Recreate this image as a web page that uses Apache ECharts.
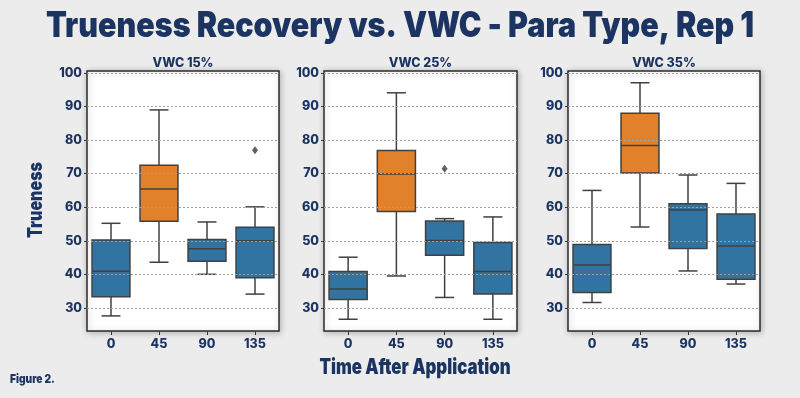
<!DOCTYPE html>
<html>
<head>
<meta charset="utf-8">
<script src="https://cdn.jsdelivr.net/npm/echarts@6/dist/echarts.min.js"></script>
<style>
  html, body { margin: 0; padding: 0; background: #ececec; }
  #chart { width: 800px; height: 398px; }
</style>
</head>
<body>
<div id="chart"></div>
<script>
// time after application
const categories = ['0', '45', '90', '135']
const panelTitles = ['VWC 15%', 'VWC 25%', 'VWC 35%']
const yTicks = [30, 40, 50, 60, 70, 80, 90, 100]

// [min, q1, median, q3, max] per category
const vwc15 = [
  [27.6, 33.3, 40.9, 50.2, 55.2],
  [43.6, 55.8, 65.4, 72.5, 89.0],
  [40.0, 43.9, 47.6, 50.4, 55.6],
  [34.1, 39.0, 50.0, 54.0, 60.1],
]
const vwc25 = [
  [26.6, 32.5, 35.6, 40.8, 45.1],
  [39.5, 58.7, 69.9, 76.9, 94.1],
  [33.1, 45.7, 50.1, 55.9, 56.6],
  [26.6, 34.1, 40.8, 49.5, 57.1],
]
const vwc35 = [
  [31.6, 34.6, 42.8, 48.9, 65.0],
  [54.1, 70.2, 78.4, 88.0, 97.1],
  [41.0, 47.7, 59.2, 61.0, 69.6],
  [37.1, 38.5, 48.4, 58.0, 67.1],
]
// [category index, value]
const outliers15 = [[3, 77.0]]
const outliers25 = [[2, 71.5]]
const outliers35 = []

const panels = [vwc15, vwc25, vwc35]
const panelOutliers = [outliers15, outliers25, outliers35]
const boxColors = ['#3274a1', '#e1812c', '#3274a1', '#3274a1']
const edge = '#404040'
const navy = '#1c3461'

const gridPos = [
  { left: 87, width: 192 },
  { left: 324, width: 193 },
  { left: 568, width: 192 },
]

function renderBox(params, api) {
  const x = api.value(0)
  const lo = api.coord([x, api.value(1)])
  const q1 = api.coord([x, api.value(2)])
  const med = api.coord([x, api.value(3)])
  const q3 = api.coord([x, api.value(4)])
  const hi = api.coord([x, api.value(5)])
  const bw = api.size([1, 0])[0] * 0.79
  const cx = lo[0]
  const line = { stroke: edge, lineWidth: 1.5 }
  return {
    type: 'group',
    children: [
      { type: 'line', shape: { x1: cx, y1: hi[1], x2: cx, y2: q3[1] }, style: line },
      { type: 'line', shape: { x1: cx, y1: q1[1], x2: cx, y2: lo[1] }, style: line },
      { type: 'line', shape: { x1: cx - bw / 4, y1: hi[1], x2: cx + bw / 4, y2: hi[1] }, style: line },
      { type: 'line', shape: { x1: cx - bw / 4, y1: lo[1], x2: cx + bw / 4, y2: lo[1] }, style: line },
      {
        type: 'rect',
        shape: { x: cx - bw / 2, y: q3[1], width: bw, height: q1[1] - q3[1] },
        style: { fill: boxColors[params.dataIndex], stroke: edge, lineWidth: 1.5 },
      },
      { type: 'line', shape: { x1: cx - bw / 2, y1: med[1], x2: cx + bw / 2, y2: med[1] }, style: line },
    ],
  }
}

const labelFont = { color: navy, fontWeight: 800, fontSize: 12.5, fontFamily: 'Inter' }

const grids = gridPos.map(p => ({
  left: p.left, width: p.width, top: 71, height: 260,
  show: true, backgroundColor: '#fff', borderColor: '#2a2a2a', borderWidth: 1.5,
  shadowBlur: 6, shadowColor: 'rgba(0,0,0,0.25)', shadowOffsetX: 1, shadowOffsetY: 1,
}))

const xAxes = panels.map((_, i) => ({
  type: 'category', gridIndex: i, data: categories,
  axisLine: { show: false },
  axisTick: { show: true, alignWithLabel: true, length: 4, lineStyle: { color: '#333' } },
  axisLabel: Object.assign({ margin: 7 }, labelFont),
  splitLine: { show: false },
}))

const yAxes = panels.map((_, i) => ({
  type: 'value', gridIndex: i, min: 23.1, max: 100.6,
  axisLine: { show: false },
  axisTick: { show: true, length: 3, customValues: yTicks, lineStyle: { color: '#333' } },
  axisLabel: Object.assign({ margin: 5, customValues: yTicks }, labelFont),
  splitLine: { show: false },
}))

const series = []
panels.forEach((stats, i) => {
  series.push({
    type: 'line', xAxisIndex: i, yAxisIndex: i, data: [], silent: true,
    markLine: {
      silent: true, symbol: 'none', label: { show: false },
      lineStyle: { color: '#a0a0a0', type: [2, 2], width: 1 },
      data: yTicks.map(v => ({ yAxis: v })),
    },
  })
  series.push({
    type: 'custom', xAxisIndex: i, yAxisIndex: i,
    renderItem: renderBox,
    encode: { x: 0, y: [1, 2, 3, 4, 5] },
    data: stats.map((s, k) => [k].concat(s)),
    z: 3,
  })
  series.push({
    type: 'scatter', xAxisIndex: i, yAxisIndex: i,
    symbol: 'diamond', symbolSize: [6, 8],
    itemStyle: { color: '#3a3a3a' },
    data: panelOutliers[i], z: 4,
  })
})

const chart = echarts.init(document.getElementById('chart'))
chart.setOption({
  backgroundColor: '#ececec',
  animation: false,
  graphic: panelTitles.map((t, i) => ({
    type: 'text', x: gridPos[i].left + gridPos[i].width / 2, y: 63,
    style: {
      text: t, align: 'center', verticalAlign: 'middle',
      fill: navy, font: '800 12.5px Inter, Roboto, sans-serif',
    },
  })).concat([
    {
      type: 'text', x: 400, y: 26, scaleX: 0.87,
      style: {
        text: 'Trueness Recovery vs. VWC - Para Type, Rep 1', align: 'center', verticalAlign: 'middle',
        fill: navy, font: '900 35px Inter, Roboto, sans-serif',
      },
    },
    {
      type: 'text', x: 36, y: 200, rotation: Math.PI / 2, scaleX: 0.8,
      style: {
        text: 'Trueness', align: 'center', verticalAlign: 'middle',
        fill: navy, font: '900 20px Inter, Roboto, sans-serif',
      },
    },
    {
      type: 'text', x: 415, y: 368, scaleX: 0.8,
      style: {
        text: 'Time After Application', align: 'center', verticalAlign: 'middle',
        fill: navy, font: '900 21px Inter, Roboto, sans-serif',
      },
    },
    {
      type: 'text', x: 10, y: 379, scaleX: 0.85,
      style: {
        text: 'Figure 2.', align: 'left', verticalAlign: 'middle',
        fill: navy, font: '900 12px Inter, Roboto, sans-serif',
      },
    },
  ]),
  grid: grids,
  xAxis: xAxes,
  yAxis: yAxes,
  series: series,
})
</script>
</body>
</html>
